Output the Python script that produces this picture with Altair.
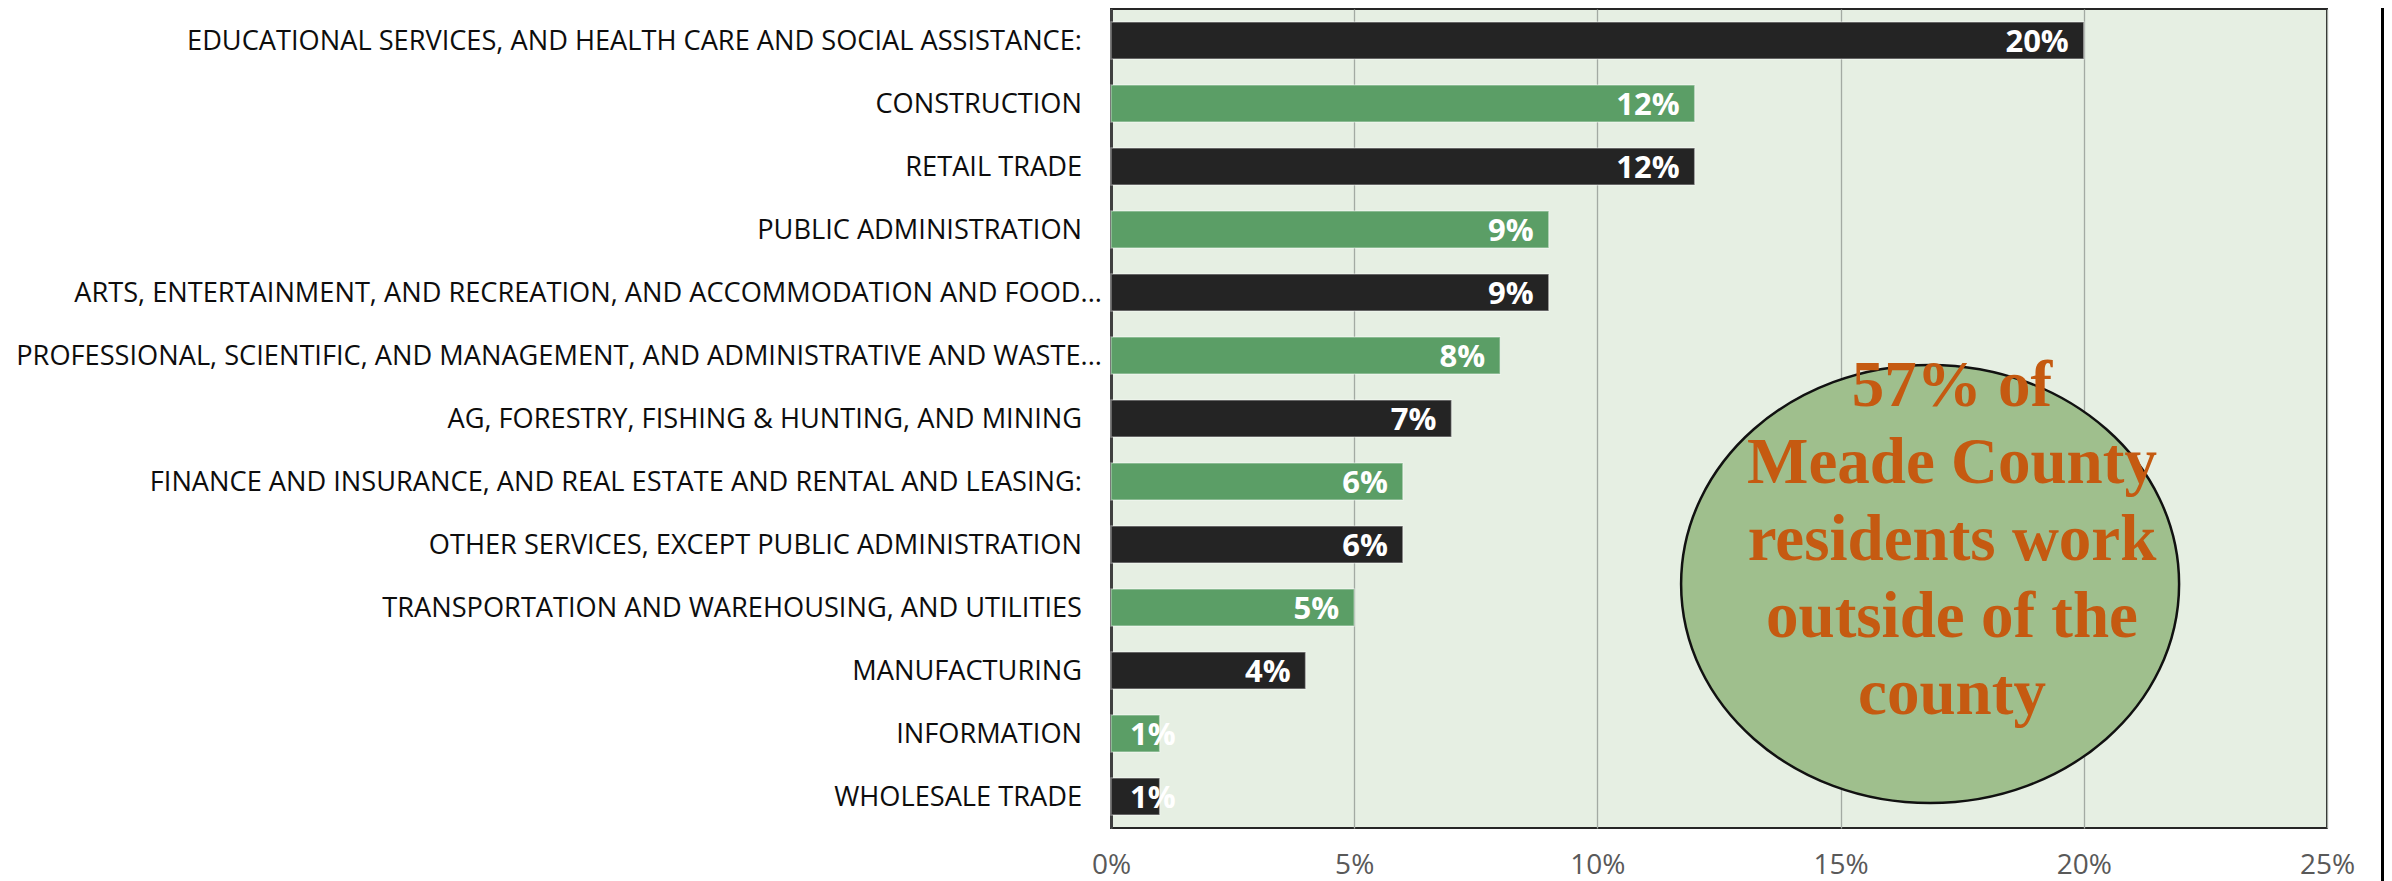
import altair as alt
import pandas as pd

categories = [
    "EDUCATIONAL SERVICES, AND HEALTH CARE AND SOCIAL ASSISTANCE:",
    "CONSTRUCTION",
    "RETAIL TRADE",
    "PUBLIC ADMINISTRATION",
    "ARTS, ENTERTAINMENT, AND RECREATION, AND ACCOMMODATION AND FOOD...",
    "PROFESSIONAL, SCIENTIFIC, AND MANAGEMENT, AND ADMINISTRATIVE AND WASTE...",
    "AG, FORESTRY, FISHING & HUNTING, AND MINING",
    "FINANCE AND INSURANCE, AND REAL ESTATE AND RENTAL AND LEASING:",
    "OTHER SERVICES, EXCEPT PUBLIC ADMINISTRATION",
    "TRANSPORTATION AND WAREHOUSING, AND UTILITIES",
    "MANUFACTURING",
    "INFORMATION",
    "WHOLESALE TRADE",
]
values = [0.20, 0.12, 0.12, 0.09, 0.09, 0.08, 0.07, 0.06, 0.06, 0.05, 0.04, 0.01, 0.01]
bar_group = ["dark", "green", "dark", "green", "dark", "green", "dark",
             "green", "dark", "green", "dark", "green", "dark"]
x_ticks = [0, 0.05, 0.10, 0.15, 0.20, 0.25]

callout_x = [0.1684]
callout_text_x = [0.1729]
callout_text = ["57% of\nMeade County\nresidents work\noutside of the\ncounty"]

df = pd.DataFrame({"category": categories, "value": values, "group": bar_group})
ann = pd.DataFrame({"x": callout_x, "tx": callout_text_x, "text": callout_text})

W, H = 1216, 819
LABEL_FONT = "Open Sans"

x_enc = alt.X("value:Q",
              scale=alt.Scale(domain=[0, 0.25], nice=False, zero=True),
              axis=alt.Axis(values=x_ticks, format=".0%", title=None,
                            labelFont=LABEL_FONT, labelFontSize=28, labelFlush=False,
                            labelColor="#595959", labelPadding=23,
                            ticks=False, domain=False,
                            grid=True, gridColor="#a3aaa3", gridWidth=1.3))
y_sort = alt.Y("category:N", sort=categories)
y_enc = alt.Y("category:N", sort=categories,
              scale=alt.Scale(paddingInner=0.41, paddingOuter=0.205),
              axis=alt.Axis(title=None, labels=False, ticks=False, domain=True,
                            domainColor="#404040", domainWidth=3, grid=False))

bars = alt.Chart(df).mark_bar(stroke="white", strokeOpacity=0.4, strokeWidth=1.5).encode(
    x=x_enc,
    y=y_enc,
    color=alt.Color("group:N",
                    scale=alt.Scale(domain=["dark", "green"], range=["#242424", "#5b9e66"]),
                    legend=None),
)

# category labels (Excel-style: truncated labels hang a bit further right)
cat_base = alt.Chart(df).transform_calculate(
    base="0", trunc="indexof(datum.category, '...') >= 0 ? 1 : 0"
)
cat_full = cat_base.transform_filter("datum.trunc == 0").mark_text(
    align="right", baseline="middle", dx=-29, dy=1, font=LABEL_FONT,
    fontSize=27.2, color="#0d0d0d"
).encode(x="base:Q", y=y_sort, text="category:N")
cat_trunc = cat_base.transform_filter("datum.trunc == 1").mark_text(
    align="right", baseline="middle", dx=-9, dy=1, font=LABEL_FONT,
    fontSize=27.2, color="#0d0d0d"
).encode(x="base:Q", y=y_sort, text="category:N")

labels_big = alt.Chart(df).transform_filter("datum.value >= 0.02").mark_text(
    align="right", baseline="middle", dx=-15, dy=2, font=LABEL_FONT,
    fontSize=31, fontWeight="bold", color="white"
).encode(
    x="value:Q",
    y=y_sort,
    text=alt.Text("value:Q", format=".0%"),
)

labels_small = alt.Chart(df).transform_filter("datum.value < 0.02").transform_calculate(
    base="0"
).mark_text(
    align="left", baseline="middle", dx=19, dy=2, font=LABEL_FONT,
    fontSize=31, fontWeight="bold", color="white"
).encode(
    x="base:Q",
    y=y_sort,
    text=alt.Text("value:Q", format=".0%"),
)

ellipse = alt.Chart(ann).mark_point(
    shape="M-1,0A1,0.88,0,1,1,1,0A1,0.88,0,1,1,-1,0Z",
    size=248000, filled=True, fill="#9fbf8d", fillOpacity=1,
    stroke="#111111", strokeWidth=2.5, opacity=1
).encode(
    x="x:Q",
    y=alt.value(575),
)

callout = alt.Chart(ann).mark_text(
    font="Liberation Serif", fontSize=65, fontWeight="bold", color="#c55a11",
    align="center", baseline="middle", lineBreak="\n", lineHeight=77
).encode(
    x="tx:Q",
    y=alt.value(377),
    text="text:N",
)

frame = alt.Chart(ann).mark_rule(color="#000000", strokeWidth=4).encode(
    x=alt.value(1272), y=alt.value(-9), y2=alt.value(872)
)

chart = alt.layer(bars, cat_full, cat_trunc, labels_big, labels_small,
                  ellipse, callout, frame).properties(
    width=W, height=H,
    autosize=alt.AutoSizeParams(type="none"),
    padding={"left": 1103, "top": 1, "right": 57, "bottom": 53},
    background="white",
).configure_view(
    fill="#e6efe3", stroke="#262626", strokeWidth=2
)

chart.save("out.html", embed_options={"renderer": "svg", "actions": False})
